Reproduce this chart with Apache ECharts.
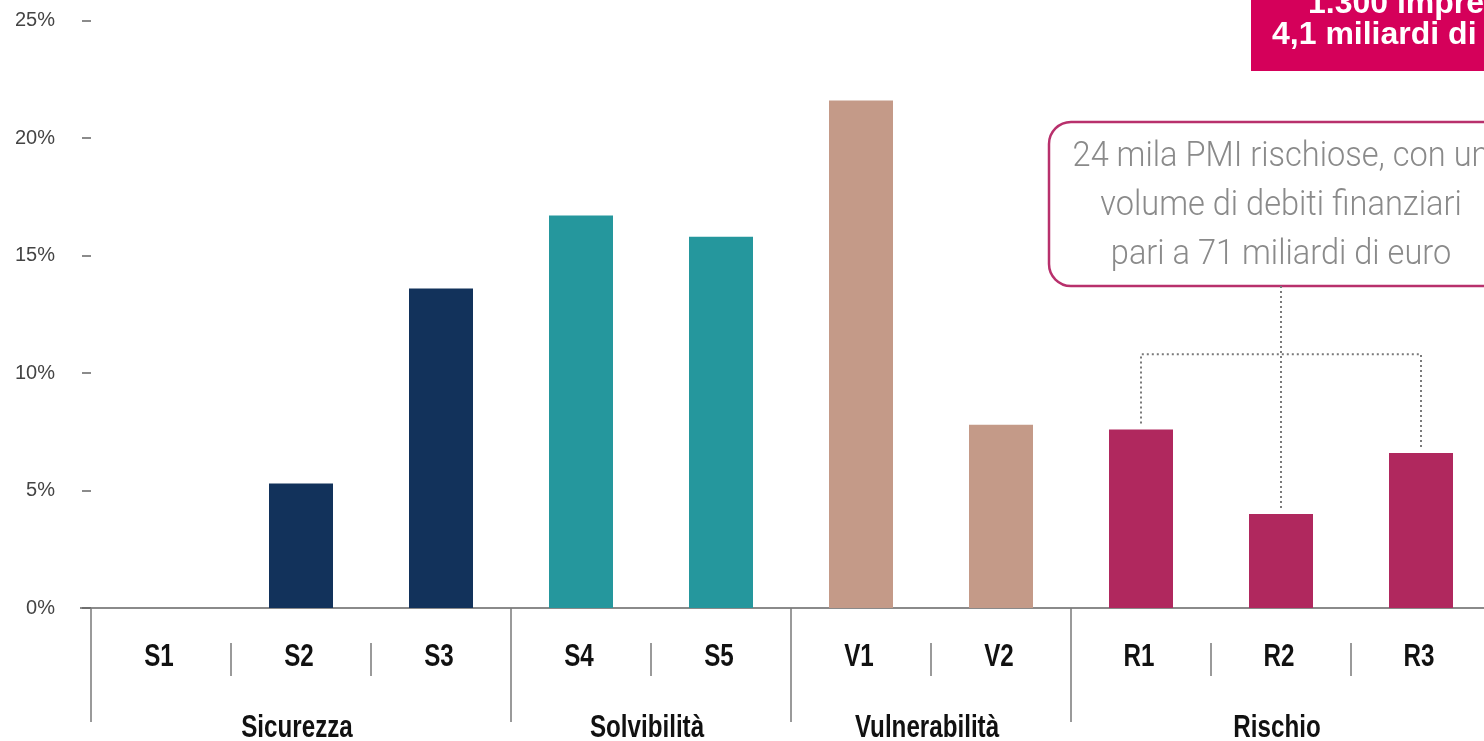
<!DOCTYPE html>
<html><head><meta charset="utf-8">
<script src="https://cdn.jsdelivr.net/npm/echarts@6/dist/echarts.min.js"></script>
<style>html,body{margin:0;padding:0;background:#fff;overflow:hidden}#c{width:1484px;height:741px}</style>
</head><body><div id="c"></div>
<script>
// ---- data ----
const categories = ['S1','S2','S3','S4','S5','V1','V2','R1','R2','R3'];
const values = [0, 5.3, 13.6, 16.7, 15.8, 21.6, 7.8, 7.6, 4.0, 6.6];
const groupNames = ['Sicurezza','Solvibilità','Vulnerabilità','Rischio'];
const groupStart = [0, 3, 5, 7];
const groupSize = [3, 2, 2, 3];
const groupColors = ['#12325b','#25979d','#c49a88','#b0285e'];
const yTickValues = [0, 5, 10, 15, 20, 25];
const noteLines = ['24 mila PMI rischiose, con un','volume di debiti finanziari','pari a 71 miliardi di euro'];
const bannerLines = ['1.300 imprese','4,1 miliardi di euro'];
const noteTargets = ['R1','R2','R3'];

// ---- helpers ----
function groupOf(i){ let g=0; groupStart.forEach((s,k)=>{ if(i>=s) g=k; }); return g; }
const labelFont = 'bold 31px "Liberation Sans",Arial,sans-serif';
const labelScaleX = 0.78;
const chart = echarts.init(document.getElementById('c'), null, {renderer:'canvas'});
const tickStyle = {color:'#7a7a7a', width:1.5};

chart.setOption({
  animation:false,
  backgroundColor:'#ffffff',
  grid:{left:91, top:20.5, right:-7, height:587.5, containLabel:false, outerBoundsMode:'none'},
  xAxis:[
    {type:'category', data:categories, position:'bottom',
     axisLine:{show:true, lineStyle:{color:'#8a8a8a', width:2}},
     axisTick:{show:false},
     axisLabel:{show:false}},
    {type:'category', data:categories, position:'bottom', offset:35,
     axisLine:{show:false},
     axisTick:{show:true, length:33, lineStyle:tickStyle,
       interval:function(i){ return groupStart.indexOf(i) < 0; }},
     axisLabel:{show:false}},
    {type:'category', data:categories, position:'bottom', offset:0,
     axisLine:{show:false},
     axisTick:{show:true, length:114, lineStyle:tickStyle,
       interval:function(i){ return groupStart.indexOf(i) >= 0; }},
     axisLabel:{show:false}}
  ],
  yAxis:{type:'value', min:yTickValues[0], max:yTickValues[yTickValues.length-1], interval:5,
    axisLine:{show:false},
    axisTick:{show:true, length:9, lineStyle:{color:'#666', width:1.5}},
    splitLine:{show:false},
    axisLabel:{formatter:'{value}%', margin:36, fontSize:20, color:'#444', fontFamily:'"Liberation Sans",Arial,sans-serif'}},
  series:[{type:'bar', barWidth:64, xAxisIndex:0, yAxisIndex:0,
    data: values.map((v,i)=>({value:v, itemStyle:{color:groupColors[groupOf(i)]}}))}]
});

// ---- annotations positioned through the chart's scales ----
function px(cat, v){ return chart.convertToPixel({xAxisIndex:0, yAxisIndex:0}, [cat, v]); }
const g = [];
const zeroY = px(categories[0], 0)[1];
const bandW = px(categories[1],0)[0] - px(categories[0],0)[0];
// short extension of the baseline to the left
g.push({type:'line', shape:{x1:80, y1:zeroY, x2:px(categories[0],0)[0]-bandW/2, y2:zeroY}, style:{stroke:'#8a8a8a', lineWidth:2}});
categories.forEach((c)=>{
  g.push({type:'text', x:px(c,0)[0]-2, y:657, scaleX:labelScaleX, style:{text:c, align:'center', verticalAlign:'middle', font:labelFont, fill:'#111'}});
});
groupNames.forEach((name,k)=>{
  const a = px(categories[groupStart[k]], 0)[0];
  const b = px(categories[groupStart[k]+groupSize[k]-1], 0)[0];
  g.push({type:'text', x:(a+b)/2-4, y:728, scaleX:labelScaleX, style:{text:name, align:'center', verticalAlign:'middle',
    font:labelFont, fill:'#111'}});
});

const iR1 = categories.indexOf(noteTargets[0]), iR2 = categories.indexOf(noteTargets[1]), iR3 = categories.indexOf(noteTargets[2]);
const cx = px(noteTargets[1], 0)[0];
const boxTop = 122, boxH = 164, boxW = 464;
g.push({type:'rect', shape:{x:cx-boxW/2, y:boxTop, width:boxW, height:boxH, r:22},
  style:{fill:'#fff', stroke:'#b8306c', lineWidth:2.5}});
noteLines.forEach((t,k)=>{
  g.push({type:'text', x:cx, y:157 + k*49, scaleX:0.93, style:{text:t, align:'center', verticalAlign:'middle',
    font:'300 35px Roboto,"Liberation Sans",sans-serif', fill:'#8a8a8a'}});
});
const dash = {stroke:'#7a7a7a', lineWidth:2, lineDash:[2,3], fill:null};
const yBracket = px(noteTargets[1], 10.8)[1];
const x1 = px(noteTargets[0],0)[0], x3 = px(noteTargets[2],0)[0];
g.push({type:'polyline', shape:{points:[[cx, boxTop+boxH], [cx, px(noteTargets[1], values[iR2])[1]-3]]}, style:dash});
g.push({type:'polyline', shape:{points:[[x1, px(noteTargets[0], values[iR1])[1]-6],[x1, yBracket],[x3, yBracket],[x3, px(noteTargets[2], values[iR3])[1]-5]]}, style:dash});

// banner at top right
g.push({type:'rect', shape:{x:1251, y:-30, width:400, height:101}, style:{fill:'#d5005a'}});
g.push({type:'text', x:1308, y:4, style:{text:bannerLines[0], align:'left', verticalAlign:'middle',
  font:'bold 32px "Liberation Sans",Arial,sans-serif', fill:'#fff'}});
g.push({type:'text', x:1272, y:35, style:{text:bannerLines[1], align:'left', verticalAlign:'middle',
  font:'bold 32px "Liberation Sans",Arial,sans-serif', fill:'#fff'}});

chart.setOption({graphic:g});
</script>
</body></html>
